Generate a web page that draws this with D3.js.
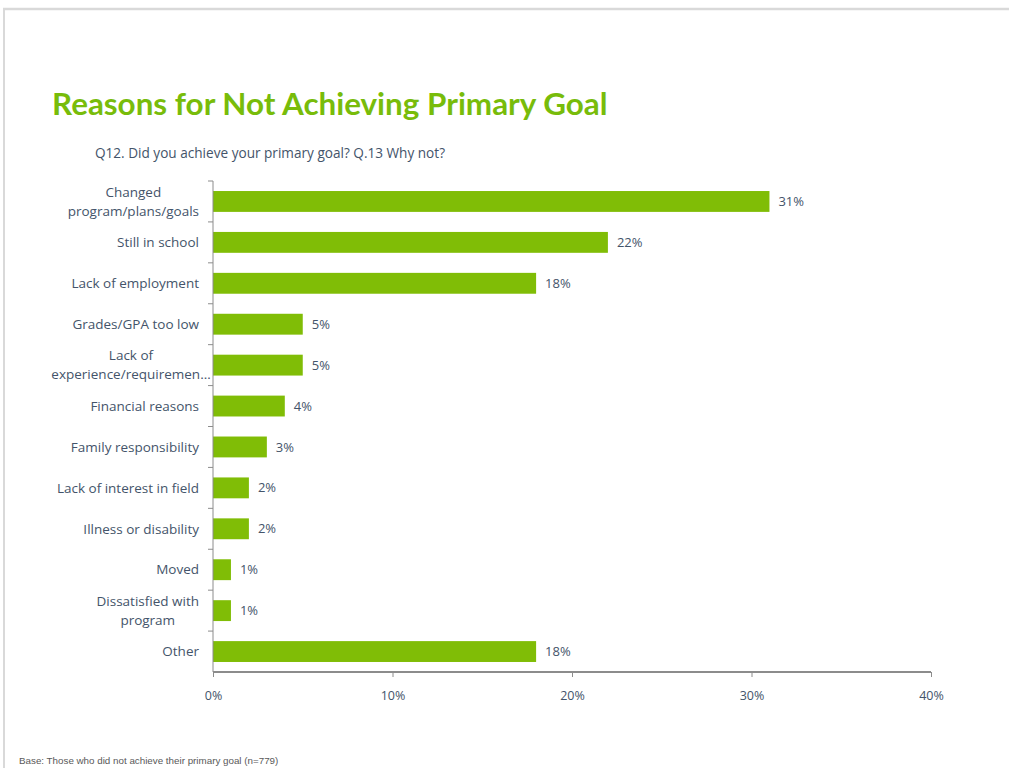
<!DOCTYPE html>
<html><head><meta charset="utf-8">
<script src="https://cdn.jsdelivr.net/npm/d3@7"></script>
<style>
body{margin:0;background:#fff;}
svg{display:block;}
</style></head>
<body>
<svg id="chart" width="1009" height="768"></svg>
<script>
const categories = [
  ["Changed", "program/plans/goals"],
  ["Still in school"],
  ["Lack of employment"],
  ["Grades/GPA too low"],
  ["Lack of", "experience/requiremen…"],
  ["Financial reasons"],
  ["Family responsibility"],
  ["Lack of interest in field"],
  ["Illness or disability"],
  ["Moved"],
  ["Dissatisfied with", "program"],
  ["Other"]
];
const values = [31, 22, 18, 5, 5, 4, 3, 2, 2, 1, 1, 18];
const tickValues = [0, 10, 20, 30, 40];
const title = "Reasons for Not Achieving Primary Goal";
const subtitle = "Q12. Did you achieve your primary goal? Q.13 Why not?";
const footnote = "Base: Those who did not achieve their primary goal (n=779)";

(function(){
const svg = d3.select("#chart");
const labelColor = "#44546a";
const barColor = "#80bd06";

// frame
svg.append("line").attr("x1",3).attr("x2",1009).attr("y1",9).attr("y2",9).attr("stroke","#d9d9d9").attr("stroke-width",2.5);
svg.append("line").attr("x1",4).attr("x2",4).attr("y1",8).attr("y2",768).attr("stroke","#d9d9d9").attr("stroke-width",2);

svg.append("text").attr("x",52).attr("y",115).text(title)
  .attr("font-family","Lato, 'Open Sans', sans-serif").attr("font-weight","bold").attr("font-size",31.4).attr("fill","#78bc0a");
svg.append("text").attr("x",95).attr("y",158).text(subtitle)
  .attr("font-family","'Open Sans', Lato, sans-serif").attr("font-size",13.6).attr("fill",labelColor);
svg.append("text").attr("x",19).attr("y",764).text(footnote)
  .attr("font-family","'Liberation Sans', Arial, sans-serif").attr("font-size",9.8).attr("fill","#595959");

const mLeft = 213, mRight = 931, mTop = 181, mBottom = 672;
const x = d3.scaleLinear().domain([0,40]).range([mLeft,mRight]);
const y = d3.scaleBand().domain(d3.range(categories.length)).range([mTop,mBottom]).paddingInner(0.49).paddingOuter(0.245);

const g = svg.append("g");
g.selectAll("rect.bar").data(values).join("rect").attr("class","bar")
  .attr("x", x(0)).attr("y",(d,i)=>y(i)).attr("width",d=>x(d)-x(0)).attr("height",y.bandwidth()).attr("fill",barColor);

g.selectAll("text.val").data(values).join("text").attr("class","val")
  .attr("x",d=>x(d)+9).attr("y",(d,i)=>y(i)+y.bandwidth()/2).attr("dy","0.35em")
  .text(d=>d+"%").attr("font-family","'Open Sans', sans-serif").attr("font-size",13).attr("fill",labelColor);

// y axis
const yStep = (mBottom-mTop)/categories.length;
svg.append("line").attr("x1",mLeft).attr("x2",mLeft).attr("y1",mTop).attr("y2",mBottom).attr("stroke","#8c8c8c").attr("stroke-width",1);
svg.selectAll("line.ytick").data(d3.range(categories.length)).join("line").attr("class","ytick")
  .attr("x1",mLeft-5).attr("x2",mLeft).attr("y1",i=>mTop+i*yStep).attr("y2",i=>mTop+i*yStep).attr("stroke","#8c8c8c");

const lab = svg.selectAll("text.cat").data(categories).join("text").attr("class","cat")
  .attr("font-family","'Open Sans', sans-serif").attr("font-size",13.5).attr("fill",labelColor);
lab.each(function(lines,i){
  const cy = y(i)+y.bandwidth()/2;
  const lh = 19;
  const t = d3.select(this);
  if (lines.length === 1) {
    t.attr("text-anchor","end").append("tspan").attr("x",199).attr("y",cy).attr("dy","0.35em").text(lines[0]);
    return;
  }
  t.attr("text-anchor","middle");
  const spans = lines.map((l,k)=>t.append("tspan").attr("y",cy + (k-(lines.length-1)/2)*lh).attr("dy","0.35em").text(l));
  const maxw = d3.max(spans, s=>s.node().getComputedTextLength());
  const cx = 199 - Math.min(maxw,136)/2;
  spans.forEach(s=>s.attr("x",cx));
});

// x axis
const xAxis = d3.axisBottom(x).tickValues(tickValues).tickFormat(d=>d+"%").tickSize(5).tickPadding(14);
const ax = svg.append("g").attr("transform",`translate(0,${mBottom})`).call(xAxis);
ax.select(".domain").attr("stroke","#8c8c8c").attr("stroke-width",2).attr("d",`M${mLeft},0H${mRight}`);
ax.selectAll(".tick line").attr("stroke","#8c8c8c");
ax.selectAll(".tick text").attr("font-family","'Open Sans', sans-serif").attr("font-size",12.5).attr("fill",labelColor);
})();
</script>
</body></html>
